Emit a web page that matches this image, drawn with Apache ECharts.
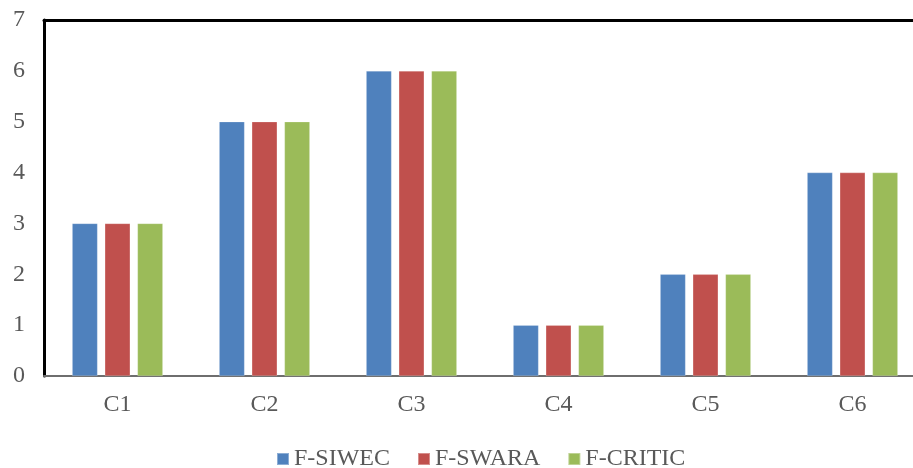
<!DOCTYPE html>
<html>
<head>
<meta charset="utf-8">
<script src="https://cdn.jsdelivr.net/npm/echarts@6/dist/echarts.min.js"></script>
<style>
  html, body { margin: 0; padding: 0; background: #fff; overflow: hidden; }
  #chart { width: 926px; height: 468px; }
</style>
</head>
<body>
<div id="chart"></div>
<script>
// Criteria and rank values for each weighting method
const categories = ['C1', 'C2', 'C3', 'C4', 'C5', 'C6'];
const fSiwec = [3, 5, 6, 1, 2, 4];
const fSwara = [3, 5, 6, 1, 2, 4];
const fCritic = [3, 5, 6, 1, 2, 4];
const yTicks = [0, 1, 2, 3, 4, 5, 6, 7];

const seriesNames = ['F-SIWEC', 'F-SWARA', 'F-CRITIC'];
const seriesData = [fSiwec, fSwara, fCritic];
const colors = ['#4F81BD', '#C0504D', '#9BBB59'];
const font = '"Liberation Serif", "Times New Roman", serif';

const chart = echarts.init(document.getElementById('chart'), null, { renderer: 'canvas' });

chart.setOption({
  animation: false,
  color: colors,
  grid: { left: 44, right: 0, top: 20, bottom: 92, containLabel: false },
  legend: {
    data: seriesNames,
    top: 442,
    left: 271,
    itemWidth: 12,
    itemHeight: 12,
    itemGap: 27,
    icon: 'rect',
    textStyle: { fontFamily: font, fontSize: 24, color: '#595959' }
  },
  xAxis: [
    {
      type: 'category',
      data: categories,
      axisLine: { lineStyle: { color: '#6e6e6e', width: 2 } },
      axisTick: { show: false },
      axisLabel: { fontFamily: font, fontSize: 24, color: '#595959', margin: 17 }
    },
    {
      type: 'category',
      data: categories,
      position: 'top',
      axisLine: { lineStyle: { color: '#000', width: 3 } },
      axisTick: { show: false },
      axisLabel: { show: false }
    }
  ],
  yAxis: {
    type: 'value',
    min: yTicks[0],
    max: yTicks[yTicks.length - 1],
    interval: 1,
    axisLine: { show: true, lineStyle: { color: '#000', width: 3 } },
    axisTick: { show: false },
    splitLine: { show: false },
    axisLabel: { fontFamily: font, fontSize: 24, color: '#595959', margin: 19 }
  },
  series: seriesNames.map((name, i) => ({
    name: name,
    type: 'bar',
    data: seriesData[i],
    barWidth: 25.5,
    barGap: '28%',
    itemStyle: { color: colors[i], borderColor: 'rgba(255,255,255,0.35)', borderWidth: 0.6 }
  }))
});
</script>
</body>
</html>
